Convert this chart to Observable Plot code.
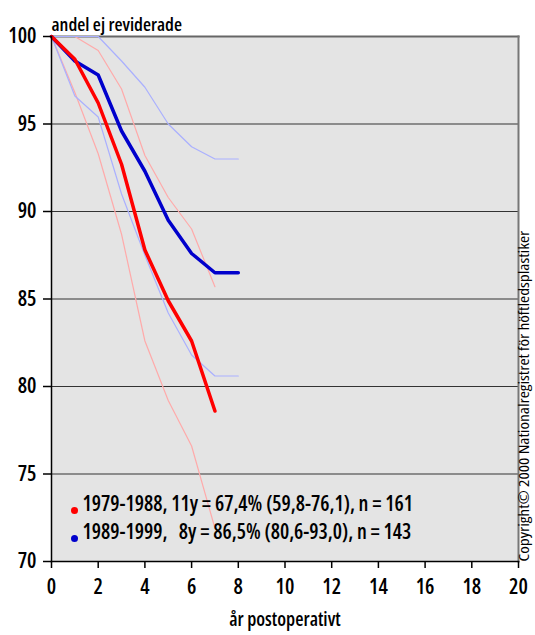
<!DOCTYPE html>
<html>
<head>
<meta charset="utf-8">
<script src="https://cdn.jsdelivr.net/npm/d3@7"></script>
<script src="https://cdn.jsdelivr.net/npm/@observablehq/plot@0.6"></script>
<style>
  html, body { margin: 0; padding: 0; background: #fff; }
  svg text { font-family: "Open Sans", sans-serif; font-stretch: condensed; font-weight: 600; }
  svg .copyright text { font-weight: 400; }
</style>
</head>
<body>
<div id="chart"></div>
<script>
const years = [0, 1, 2, 3, 4, 5, 6, 7, 8];

// 1979-1988
const red      = [100, 98.7, 96.2, 92.7, 87.8, 84.9, 82.6, 78.6];
const redUpper = [100, 100, 99.2, 97.0, 93.2, 90.8, 89.0, 85.7];
const redLower = [100, 96.8, 93.3, 88.7, 82.6, 79.2, 76.6, 71.9];

// 1989-1999
const blue      = [100, 98.6, 97.8, 94.6, 92.3, 89.5, 87.6, 86.5, 86.5];
const blueUpper = [100, 100, 100, 98.6, 97.1, 95.0, 93.7, 93.0, 93.0];
const blueLower = [100, 96.6, 95.4, 91.0, 87.5, 84.2, 81.8, 80.6, 80.6];

const xTicks = [0, 2, 4, 6, 8, 10, 12, 14, 16, 18, 20];
const yTicks = [70, 75, 80, 85, 90, 95, 100];
const gridY = [75, 80, 85, 90, 95];

const legendLabels = [
  "1979-1988, 11y = 67,4% (59,8-76,1), n = 161",
  "1989-1999,\u00a0\u00a0\u00a08y = 86,5% (80,6-93,0), n = 143"
];
const legendColors = ["#ff0000", "#0000cc"];

const titleText = "andel ej reviderade";
const xLabel = "år postoperativt";
const copyright = "Copyright© 2000 Nationalregistret för höftledsplastiker";

function toRows(vals) { return vals.map((v, i) => ({x: years[i], y: v})); }

const legendMarks = legendLabels.flatMap((label, i) => {
  const dy = i === 0 ? -51 : -23;
  return [
    Plot.dot([legendColors[i]], {frameAnchor: "bottom-left", dx: 23, dy, r: 3.5, fill: d => d, stroke: null}),
    Plot.text([label], {frameAnchor: "bottom-left", dx: 31, dy, textAnchor: "start", fontSize: 20.7, fill: "#000"})
  ];
});

const chart = Plot.plot({
  width: 535,
  height: 635,
  marginLeft: 51,
  marginRight: 17,
  marginTop: 36,
  marginBottom: 74,
  style: {fontSize: "19px", color: "#000", background: "#fff"},
  x: {domain: [0, 20]},
  y: {domain: [70, 100]},
  marks: [
    Plot.frame({fill: "#e4e4e4", stroke: null}),
    Plot.ruleY(gridY, {stroke: "#333", strokeWidth: 1.2}),
    Plot.frame({anchor: "top", stroke: "#666", strokeWidth: 2}),
    Plot.frame({anchor: "right", stroke: "#777", strokeWidth: 2}),
    Plot.line(toRows(redUpper), {x: "x", y: "y", stroke: "#ffaaaa", strokeWidth: 1.2}),
    Plot.line(toRows(redLower), {x: "x", y: "y", stroke: "#ffaaaa", strokeWidth: 1.2}),
    Plot.line(toRows(blueUpper), {x: "x", y: "y", stroke: "#aab0ff", strokeWidth: 1.2}),
    Plot.line(toRows(blueLower), {x: "x", y: "y", stroke: "#aab0ff", strokeWidth: 1.2}),
    Plot.line(toRows(blue), {x: "x", y: "y", stroke: "#0000cc", strokeWidth: 3.5}),
    Plot.line(toRows(red), {x: "x", y: "y", stroke: "#ff0000", strokeWidth: 3.5}),
    Plot.axisX({ticks: xTicks, tickSize: 7, tickPadding: 11, fontSize: 21, label: null, stroke: "#000", strokeWidth: 1.5}),
    Plot.axisY({ticks: yTicks, tickSize: 8, tickPadding: 7, fontSize: 21, label: null, stroke: "#000", strokeWidth: 1.5}),
    Plot.frame({anchor: "left", stroke: "#000", strokeWidth: 1.5}),
    Plot.frame({anchor: "bottom", stroke: "#000", strokeWidth: 1.5}),
    ...legendMarks,
    Plot.text([titleText], {frameAnchor: "top-left", dx: 0, dy: -19, textAnchor: "start", fontSize: 18.5, fill: "#000"}),
    Plot.text([xLabel], {frameAnchor: "bottom", dy: 64, fontSize: 19, fill: "#000"}),
    Plot.text([copyright], {frameAnchor: "bottom-right", dx: 10, dy: 0, rotate: -90, textAnchor: "start", fontSize: 14, fill: "#000", className: "copyright"})
  ]
});
document.getElementById("chart").appendChild(chart);
// stretch the copyright line along the right edge to its span in the original
const frameH = 635 - 36 - 74;
d3.select(chart).selectAll(".copyright text").each(function() {
  this.setAttribute("textLength", String(frameH * 0.63));
  this.setAttribute("lengthAdjust", "spacingAndGlyphs");
});
</script>
</body>
</html>
